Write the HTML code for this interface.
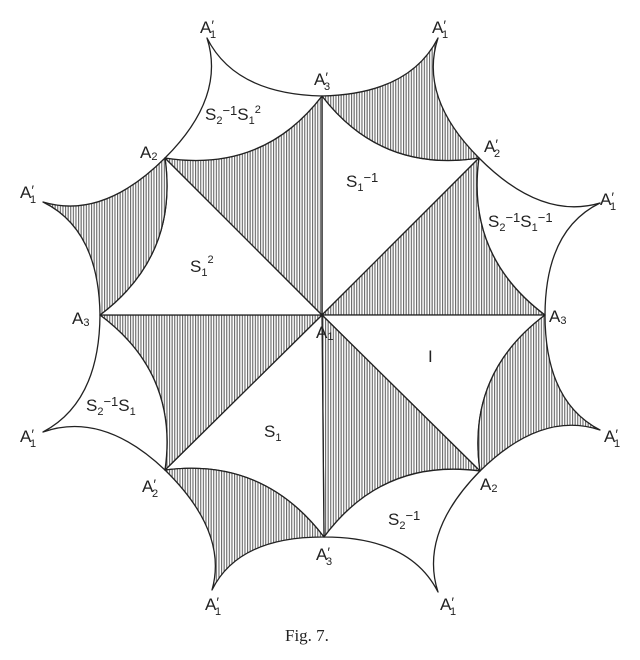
<!DOCTYPE html>
<html><head><meta charset="utf-8"><style>
html,body{margin:0;padding:0;background:#fff}
svg{display:block}
text{font-family:"Liberation Sans",sans-serif;fill:#222}
.s{font-size:11px}
</style></head><body>
<svg id="g" width="640" height="660" viewBox="0 0 640 660" xmlns="http://www.w3.org/2000/svg">
<defs><pattern id="h" width="2.6" height="10" patternUnits="userSpaceOnUse"><rect width="2.6" height="10" fill="#fff"/><rect width="1.1" height="10" fill="#666"/></pattern></defs>
<g id="shapes"></g>
<g font-size="17">
<text x="200" y="33">A<tspan font-size="14" dy="-3">′</tspan><tspan class="s" dx="-4" dy="8">1</tspan></text>
<text x="432" y="33">A<tspan font-size="14" dy="-3">′</tspan><tspan class="s" dx="-4" dy="8">1</tspan></text>
<text x="20" y="198">A<tspan font-size="14" dy="-3">′</tspan><tspan class="s" dx="-4" dy="8">1</tspan></text>
<text x="20" y="442">A<tspan font-size="14" dy="-3">′</tspan><tspan class="s" dx="-4" dy="8">1</tspan></text>
<text x="600" y="205">A<tspan font-size="14" dy="-3">′</tspan><tspan class="s" dx="-4" dy="8">1</tspan></text>
<text x="604" y="442">A<tspan font-size="14" dy="-3">′</tspan><tspan class="s" dx="-4" dy="8">1</tspan></text>
<text x="205" y="610">A<tspan font-size="14" dy="-3">′</tspan><tspan class="s" dx="-4" dy="8">1</tspan></text>
<text x="440" y="610">A<tspan font-size="14" dy="-3">′</tspan><tspan class="s" dx="-4" dy="8">1</tspan></text>
<text x="314" y="85">A<tspan font-size="14" dy="-3">′</tspan><tspan class="s" dx="-4" dy="8">3</tspan></text>
<text x="316" y="560">A<tspan font-size="14" dy="-3">′</tspan><tspan class="s" dx="-4" dy="8">3</tspan></text>
<text x="142" y="492">A<tspan font-size="14" dy="-3">′</tspan><tspan class="s" dx="-4" dy="8">2</tspan></text>
<text x="484" y="152">A<tspan font-size="14" dy="-3">′</tspan><tspan class="s" dx="-4" dy="8">2</tspan></text>
<text x="140" y="158">A<tspan class="s" dy="2">2</tspan></text>
<text x="480" y="490">A<tspan class="s" dy="2">2</tspan></text>
<text x="72" y="324">A<tspan class="s" dy="2">3</tspan></text>
<text x="549" y="322">A<tspan class="s" dy="2">3</tspan></text>
<text x="316" y="338">A<tspan class="s" dy="2">1</tspan></text>
<text x="205" y="120">S<tspan class="s" dy="4">2</tspan><tspan dy="-9" font-size="13">−1</tspan><tspan dy="5">S</tspan><tspan class="s" dy="4">1</tspan><tspan class="s" dy="-11">2</tspan></text>
<text x="346" y="187">S<tspan class="s" dy="4">1</tspan><tspan dy="-9" font-size="13">−1</tspan></text>
<text x="488" y="227">S<tspan class="s" dy="4">2</tspan><tspan dy="-9" font-size="13">−1</tspan><tspan dy="5">S</tspan><tspan class="s" dy="4">1</tspan><tspan dy="-9" font-size="13">−1</tspan></text>
<text x="190" y="272">S<tspan class="s" dy="4">1</tspan><tspan class="s" dy="-13">2</tspan></text>
<text x="428" y="362">I</text>
<text x="86" y="411">S<tspan class="s" dy="4">2</tspan><tspan dy="-9" font-size="13">−1</tspan><tspan dy="5">S</tspan><tspan class="s" dy="4">1</tspan></text>
<text x="264" y="437">S<tspan class="s" dy="4">1</tspan></text>
<text x="388" y="525">S<tspan class="s" dy="4">2</tspan><tspan dy="-9" font-size="13">−1</tspan></text>
</g>
<text x="285" y="641" style="font-family:'Liberation Serif',serif" font-size="17">Fig. 7.</text>
</svg>
<script>
var C=[322,315];
var O=[[322,96],[479,158],[545,315],[480,471],[324,537],[165,470],[100,315],[165,158]];
var P=[[438,38],[600,203],[600,430],[438,592],[212,590],[43,432],[43,202],[207,38]];
function q(a,b,t,s){var m=[(a[0]+b[0])/2,(a[1]+b[1])/2],dx=t[0]-m[0],dy=t[1]-m[1],l=Math.hypot(dx,dy);
return "Q"+(m[0]+dx/l*2*s).toFixed(1)+","+(m[1]+dy/l*2*s).toFixed(1)+" "+b[0]+","+b[1];}
var h="";
for(var i=0;i<8;i++){
 var a=O[i],b=O[(i+1)%8],p=P[i];
 var sh=(i%2==0);
 h+='<path d="M'+C+" L"+a+" "+q(a,b,C,25)+' Z" fill="'+(sh?'#fff':'url(#h)')+'" stroke="#222" stroke-width="1.3" stroke-linejoin="round"/>';
 var cen=[(a[0]+b[0]+p[0])/3,(a[1]+b[1]+p[1])/3];
 h+='<path d="M'+a+" "+q(a,p,cen,20)+" "+q(p,b,cen,20)+" "+q(b,a,C,25)+' Z" fill="'+(sh?'url(#h)':'#fff')+'" stroke="#222" stroke-width="1.3" stroke-linejoin="round"/>';
}
document.getElementById("shapes").innerHTML=h;
</script>
</body></html>
